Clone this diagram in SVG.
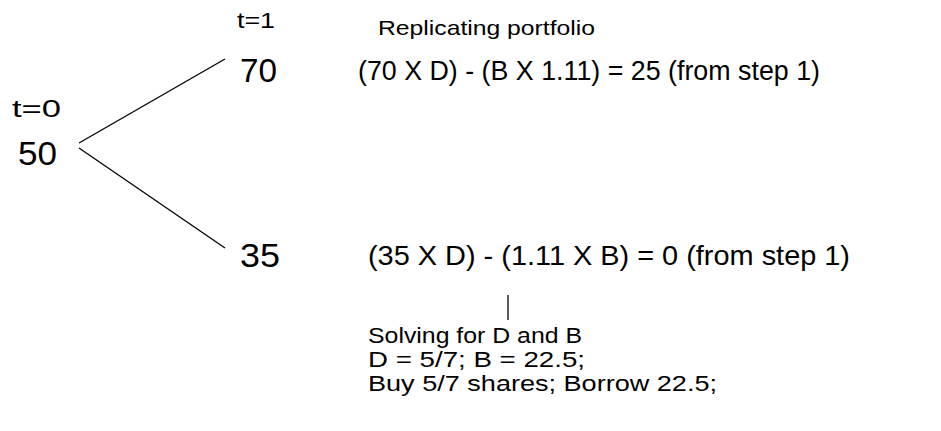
<svg xmlns="http://www.w3.org/2000/svg" width="941" height="431" viewBox="0 0 941 431">
<style>
text{font-family:"Liberation Sans",Arial,sans-serif;fill:#000}
.c{stroke:#000;stroke-width:1.3;fill:none}
</style>
<rect width="941" height="431" fill="#fff"/>
<g id="connectors">
<line class="c" x1="79" y1="143" x2="225" y2="59"/>
<line class="c" x1="79" y1="148" x2="225" y2="248"/>
<line class="c" x1="508" y1="295" x2="508" y2="320"/>
</g>
<g id="label-t1"><text x="237" y="28" font-size="22" textLength="38" lengthAdjust="spacingAndGlyphs">t=1</text></g>
<g id="label-t0"><text x="12" y="117" font-size="24" textLength="49" lengthAdjust="spacingAndGlyphs">t=0</text></g>
<g id="node-50"><text x="18" y="165" font-size="34" textLength="39" lengthAdjust="spacingAndGlyphs">50</text></g>
<g id="node-70"><text x="240" y="82" font-size="33" textLength="37" lengthAdjust="spacingAndGlyphs">70</text></g>
<g id="node-35"><text x="240" y="267" font-size="33" textLength="40" lengthAdjust="spacingAndGlyphs">35</text></g>
<g id="title"><text x="378" y="35" font-size="21" textLength="217" lengthAdjust="spacingAndGlyphs">Replicating portfolio</text></g>
<g id="eq-up"><text x="358" y="80" font-size="27" textLength="462" lengthAdjust="spacingAndGlyphs">(70 X D) - (B X 1.11) = 25  (from step 1)</text></g>
<g id="eq-down"><text x="368" y="265" font-size="28" textLength="482" lengthAdjust="spacingAndGlyphs">(35 X D) - (1.11 X B) = 0  (from step 1)</text></g>
<g id="solution">
<text x="368" y="343" font-size="22" textLength="214" lengthAdjust="spacingAndGlyphs">Solving for D and B</text>
<text x="368" y="367" font-size="22" textLength="217" lengthAdjust="spacingAndGlyphs">D = 5/7; B = 22.5;</text>
<text x="368" y="391" font-size="22" textLength="349" lengthAdjust="spacingAndGlyphs">Buy 5/7 shares; Borrow 22.5;</text>
</g>
</svg>
